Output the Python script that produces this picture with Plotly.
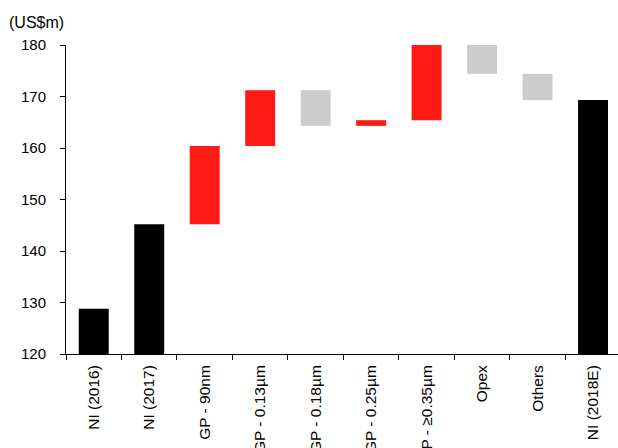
import plotly.graph_objects as go

# Net income bridge, 2017 -> 2018E (US$m)
categories = ["NI (2016)", "NI (2017)", "GP - 90nm", "GP - 0.13µm", "GP - 0.18µm",
              "GP - 0.25µm", "GP - ≥0.35µm", "Opex", "Others", "NI (2018E)"]
measures = ["absolute", "absolute", "relative", "relative", "relative",
            "relative", "relative", "relative", "relative", "total"]
values = [128.8, 145.2, 15.2, 10.8, -6.9, 1.1, 14.6, -5.6, -5.1, 0]

y_ticks = [120, 130, 140, 150, 160, 170, 180]

fig = go.Figure(go.Waterfall(
    x=categories,
    y=values,
    measure=measures,
    increasing=dict(marker=dict(color="#FF1A14")),
    decreasing=dict(marker=dict(color="#CCCCCC")),
    totals=dict(marker=dict(color="#000000")),
    connector=dict(visible=False),
    width=0.54,
    showlegend=False,
))

fig.update_layout(
    width=618, height=448,
    margin=dict(l=66, r=0, t=45, b=94),
    paper_bgcolor="white", plot_bgcolor="white",
    font=dict(family="Liberation Sans, Arial, sans-serif", color="black"),
    xaxis=dict(
        type="category",
        range=[-0.5, 9.45],
        showline=True, linecolor="black", linewidth=1,
        ticks="outside", ticklen=5, tickcolor="black",
        tickson="boundaries",
        tickangle=-90,
        tickfont=dict(size=15.5),
        ticklabelstandoff=4,
        showgrid=False, automargin=False,
    ),
    yaxis=dict(
        range=[120, 180],
        tickvals=y_ticks,
        showline=True, linecolor="black", linewidth=1,
        ticks="outside", ticklen=5, tickcolor="black",
        tickfont=dict(size=15),
        ticklabelstandoff=11,
        showgrid=False, zeroline=False, automargin=False,
    ),
    annotations=[dict(
        text="(US$m)", xref="paper", yref="paper",
        x=-59 / 552, y=1 + 22 / 309,
        xanchor="left", yanchor="middle",
        showarrow=False, font=dict(size=16),
    )],
)

fig.write_html("out.html")
